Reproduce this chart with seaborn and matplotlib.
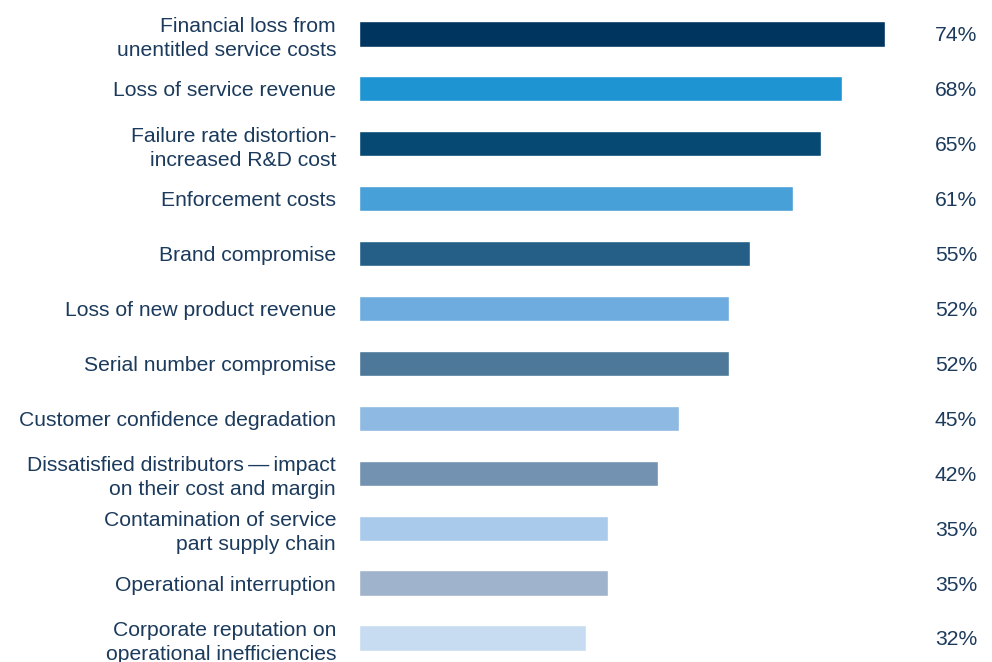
import pandas as pd
import matplotlib
matplotlib.use("Agg")
import matplotlib.pyplot as plt
import seaborn as sns

categories = [
    "Financial loss from\nunentitled service costs",
    "Loss of service revenue",
    "Failure rate distortion-\nincreased R&D cost",
    "Enforcement costs",
    "Brand compromise",
    "Loss of new product revenue",
    "Serial number compromise",
    "Customer confidence degradation",
    "Dissatisfied distributors\u2009\u2014\u2009impact\non their cost and margin",
    "Contamination of service\npart supply chain",
    "Operational interruption",
    "Corporate reputation on\noperational inefficiencies",
]
values = [74, 68, 65, 61, 55, 52, 52, 45, 42, 35, 35, 32]
colors = ["#003560", "#1e94d2", "#064a73", "#48a0d8", "#255f87", "#6eacdf",
          "#4d7899", "#8db9e3", "#7392b2", "#a9caeb", "#a0b3cd", "#c7dcf0"]

text_color = "#1b3a5c"
fs = 15.2

sns.set_style("white")
plt.rcParams["font.family"] = ["Liberation Sans", "DejaVu Sans"]

df = pd.DataFrame({"label": categories, "value": values})

fig = plt.figure(figsize=(9.92, 6.62), dpi=100)
ax = fig.add_axes([359 / 992, 0.0, (977 - 359) / 992, 1 - 6.5 / 662])

sns.barplot(data=df, x="value", y="label", hue="label", palette=colors,
            orient="h", width=0.46, legend=False, ax=ax, saturation=1)

xmax = 74 * (977 - 359) / (885 - 359)
ax.set_xlim(0, xmax)
ax.set_ylim(11 + (662 - 638) / 54.9, -0.5)

for i, v in enumerate(values):
    ax.text(xmax, i, f"{v}%", ha="right", va="center_baseline",
            fontsize=fs, color=text_color)

ax.set_xlabel("")
ax.set_ylabel("")
ax.set_xticks([])
ax.tick_params(axis="y", length=0, pad=16.5, labelsize=fs, labelcolor=text_color)
for t in ax.get_yticklabels():
    t.set_linespacing(1.33)
    t.set_horizontalalignment("right")
    t.set_multialignment("right")
sns.despine(ax=ax, left=True, bottom=True)

fig.savefig("out.png", dpi=100)
